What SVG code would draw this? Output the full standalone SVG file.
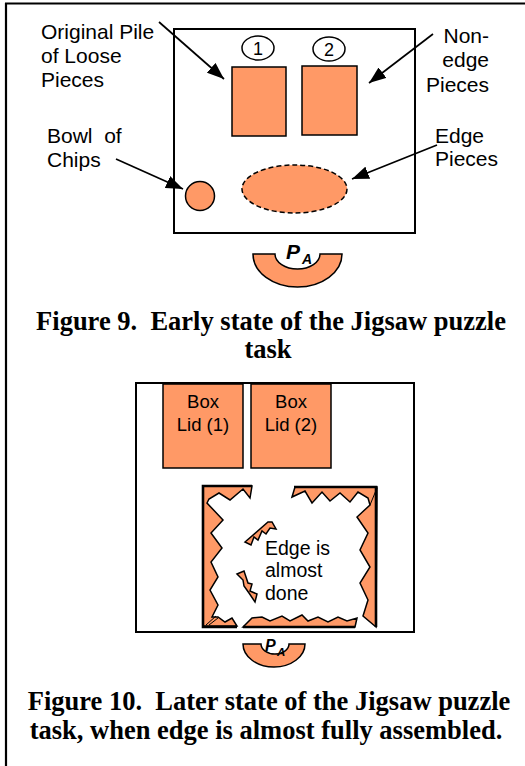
<svg xmlns="http://www.w3.org/2000/svg" width="525" height="766" viewBox="0 0 525 766">
<style>
.lbl{font-family:"Liberation Sans",Arial,sans-serif;font-size:21px;fill:#000}
.cap{font-family:"Liberation Serif","Times New Roman",serif;font-size:26.5px;font-weight:bold;fill:#000}
.org{fill:#FF9966;stroke:#000;stroke-width:1.5}
.board{fill:none;stroke:#000;stroke-width:2}
.arr{stroke:#000;stroke-width:1.7;fill:none;marker-end:url(#ah)}
.edge{stroke:#000;stroke-width:2.6;fill:none}
.pa{font-family:"Liberation Sans",Arial,sans-serif;font-weight:bold;font-style:italic;fill:#000}
</style>
<defs>
<marker id="ah" viewBox="0 0 17 13" refX="17" refY="6.5" markerWidth="17" markerHeight="13" orient="auto" markerUnits="userSpaceOnUse">
<path d="M0,0 L17,6.5 L0,13 Z" fill="#000"/>
</marker>
</defs>
<rect width="525" height="766" fill="#fff"/>
<g id="frame">
<line x1="5" y1="3.5" x2="525" y2="3.5" stroke="#000" stroke-width="2.2"/>
<line x1="6" y1="3" x2="6" y2="766" stroke="#000" stroke-width="2.2"/>
</g>
<!-- Figure 9 -->
<g id="fig9-board"><rect class="board" x="174" y="29" width="241" height="204"/></g>
<g id="pile1">
<ellipse cx="258" cy="48" rx="16" ry="12" fill="#fff" stroke="#000" stroke-width="1.5"/>
<text x="258" y="55" text-anchor="middle" class="lbl" style="font-size:18px">1</text>
<rect class="org" x="232" y="67" width="54" height="69"/>
</g>
<g id="pile2">
<ellipse cx="329" cy="49" rx="16" ry="12" fill="#fff" stroke="#000" stroke-width="1.5"/>
<text x="329" y="56" text-anchor="middle" class="lbl" style="font-size:18px">2</text>
<rect class="org" x="302" y="66" width="55" height="69"/>
</g>
<g id="bowl"><circle class="org" cx="200" cy="196" r="14.5"/></g>
<g id="edge-pieces"><ellipse cx="294.5" cy="189" rx="52.5" ry="24" fill="#FF9966" stroke="#000" stroke-width="1.5" stroke-dasharray="5,3"/></g>
<g id="person-a">
<path class="org" d="M253,254 A44.5,33 0 0 0 342,254 L320,254 A22.5,15 0 0 1 275,254 Z"/>
<text x="286" y="259" class="pa" style="font-size:21px">P</text>
<text x="302" y="264" class="pa" style="font-size:14px">A</text>
</g>
<g id="labels9">
<text class="lbl" x="41" y="39">Original Pile</text>
<text class="lbl" x="41" y="63">of Loose</text>
<text class="lbl" x="41" y="87">Pieces</text>
<text class="lbl" x="489" y="43" text-anchor="end">Non-</text>
<text class="lbl" x="489" y="67" text-anchor="end">edge</text>
<text class="lbl" x="489" y="92" text-anchor="end">Pieces</text>
<text class="lbl" x="47" y="143" xml:space="preserve">Bowl  of</text>
<text class="lbl" x="47" y="167">Chips</text>
<text class="lbl" x="435" y="143">Edge</text>
<text class="lbl" x="435" y="166">Pieces</text>
</g>
<g id="connectors">
<line class="arr" x1="159" y1="22" x2="224" y2="79"/>
<line class="arr" x1="433" y1="34" x2="369" y2="83"/>
<line class="arr" x1="116" y1="159" x2="183" y2="189"/>
<line class="arr" x1="437" y1="145" x2="352" y2="179"/>
</g>
<g id="caption9">
<text class="cap" x="271" y="330" text-anchor="middle" xml:space="preserve">Figure 9.  Early state of the Jigsaw puzzle</text>
<text class="cap" x="268" y="358" text-anchor="middle">task</text>
</g>
<!-- Figure 10 -->
<g id="fig10-board"><rect class="board" x="136" y="383" width="278" height="249"/></g>
<g id="lid1">
<rect class="org" x="163" y="384" width="80" height="84"/>
<text class="lbl" style="font-size:18.5px" x="203" y="408" text-anchor="middle">Box</text>
<text class="lbl" style="font-size:18.5px" x="203" y="431" text-anchor="middle">Lid (1)</text>
</g>
<g id="lid2">
<rect class="org" x="251" y="384" width="80" height="84"/>
<text class="lbl" style="font-size:18.5px" x="291" y="408" text-anchor="middle">Box</text>
<text class="lbl" style="font-size:18.5px" x="291" y="431" text-anchor="middle">Lid (2)</text>
</g>
<g id="puzzle-edge">
<polygon class="org" points="203,486 252,486 250,498 243,489 230,500 219,493 209,499 207,503 223,520 211,533 222,548 211,562 218,577 210,590 218,605 212,617 218,617 225,622 232,618 237,626 203,626"/>
<polygon class="org" points="292,497 295,487 377,487 376,627 363,616 368,600 360,583 370,567 360,550 368,533 357,517 370,505 368,498 358,492 350,502 340,493 330,501 322,492 312,503 305,491"/>
<polygon class="org" points="243,627 252,618 262,617 270,621 282,616 290,621 302,615 308,621 318,617 328,622 338,617 347,621 357,618 355,627"/>
<polygon class="org" points="245,542 268,522 272,522 276,529 270,528 266,534 262,531 258,540 254,537 251,545"/>
<polygon class="org" points="237,574 244,571 246,577 248,583 252,584 250,591 257,594 255,602 249,593 244,586 243,580"/>
<line x1="206" y1="625" x2="216" y2="616" stroke="#000" stroke-width="1"/>
<line x1="209" y1="625" x2="218" y2="618" stroke="#000" stroke-width="1"/>
<line x1="370" y1="505" x2="377" y2="488" stroke="#000" stroke-width="1"/>
<polyline class="edge" points="252,486 203,486 203,627 237,627"/>
<line class="edge" x1="243" y1="627" x2="355" y2="627"/>
<polyline class="edge" points="294,487 376,487 376,627"/>
<text class="lbl" style="font-size:19.5px" x="265" y="555">Edge is</text>
<text class="lbl" style="font-size:19.5px" x="265" y="577">almost</text>
<text class="lbl" style="font-size:19.5px" x="265" y="600">done</text>
</g>
<g id="person-a-10">
<path class="org" d="M243,644 A31,23 0 0 0 305,644 L289,644 A14,10 0 0 1 261,644 Z"/>
<text x="265" y="651" class="pa" style="font-size:16px">P</text>
<text x="277" y="656" class="pa" style="font-size:11.5px">A</text>
</g>
<g id="caption10">
<text class="cap" x="269" y="710" text-anchor="middle" xml:space="preserve">Figure 10.  Later state of the Jigsaw puzzle</text>
<text class="cap" x="266" y="739" text-anchor="middle">task, when edge is almost fully assembled.</text>
</g>
</svg>
